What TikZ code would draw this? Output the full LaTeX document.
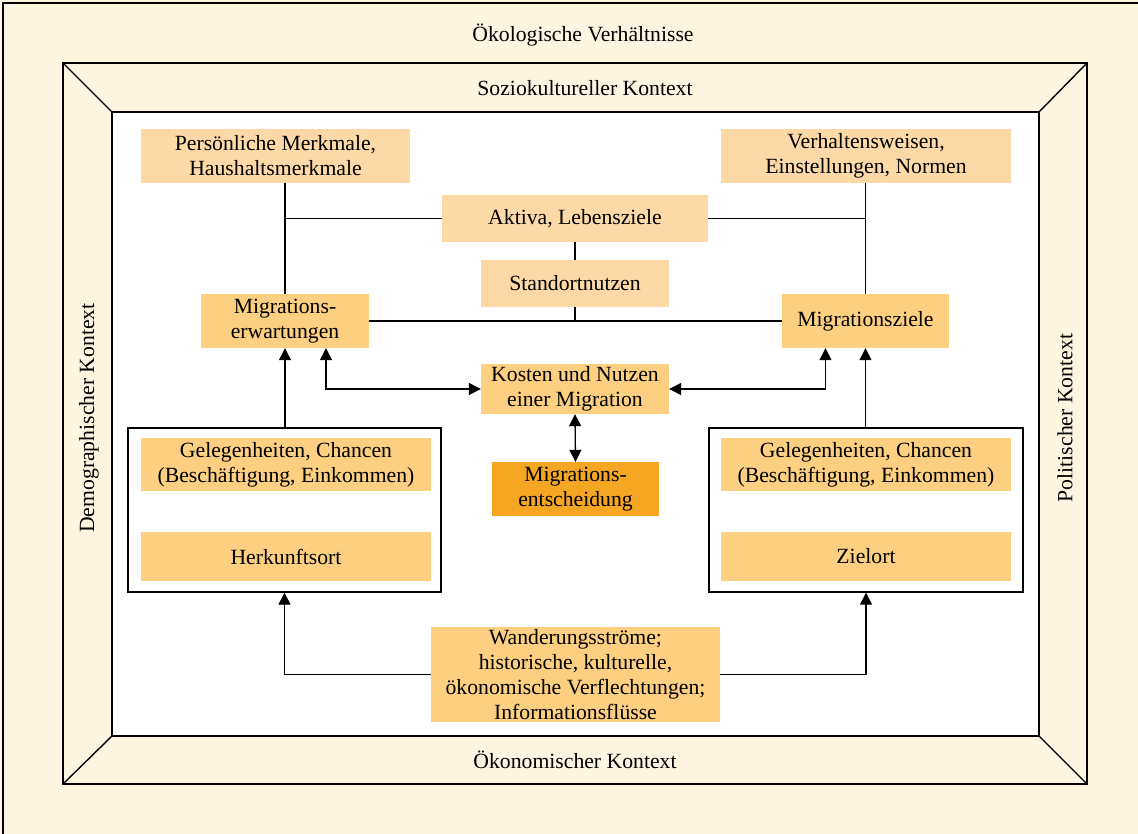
\documentclass[tikz,border=0pt]{standalone}
\usepackage{fontspec}
\setmainfont{Liberation Serif}
\usetikzlibrary{arrows.meta}
\usetikzlibrary{positioning}

\definecolor{cream}{HTML}{FEF5E1}
\definecolor{peach}{HTML}{FDD9A8}
\definecolor{amber}{HTML}{FDCF80}
\definecolor{deeporange}{HTML}{F5A623}

\begin{document}
\begin{tikzpicture}[
    x=1pt, y=-1pt,
    every node/.append style={font=\fontsize{21.7}{25}\selectfont, align=center, inner sep=0pt},
    pale/.style={fill=peach, minimum height=#1},
    pale/.default=54pt,
    warm/.style={fill=amber, minimum height=#1},
    warm/.default=54pt,
    frame/.style={draw, line width=1.4pt, minimum width=#1, minimum height=164pt},
    link/.style={line width=1.3pt},
    tip/.style={link, -{Triangle[length=12pt, width=12pt]}},
    tips/.style={link, {Triangle[length=12pt, width=12pt]}-{Triangle[length=12pt, width=12pt]}},
  ]
  \useasboundingbox (0,0) rectangle (1138,834);
  \fill[cream] (0,0) rectangle (1138,834);
  \draw[line width=2pt] (3,3) rectangle (1142,840);
  % beveled frame
  \draw[line width=1.4pt] (63,63) rectangle (1087,784);
  \filldraw[fill=white, line width=1.4pt] (112,112) rectangle (1039,736);
  \draw[line width=1.4pt] (63,63) -- (112,112) (1087,63) -- (1039,112)
    (63,784) -- (112,736) (1087,784) -- (1039,736);

  \node (oekol) at (583,35) {Ökologische Verhältnisse};
  \node (sozio) at (585,88) {Soziokultureller Kontext};
  \node (oekon) at (575,760) {Ökonomischer Kontext};
  \node[rotate=90] (demo) at (89,418) {Demographischer Kontext};
  \node[rotate=90] (polit) at (1065,418) {Politischer Kontext};

  \node[pale, minimum width=269pt] (merkmale) at (275.5,156) {Persönliche Merkmale,\\Haushaltsmerkmale};
  \node[pale, minimum width=290pt] (verhalten) at (866,156) {Verhaltensweisen,\\Einstellungen, Normen};
  \node[pale=47pt, minimum width=266pt] (aktiva) at (575,218.5) {Aktiva, Lebensziele};
  \node[pale=47pt, minimum width=188pt] (standort) at (575,283.5) {Standortnutzen};

  \node[warm, minimum width=168pt] (erwart) at (285,321) {Migrations-\\erwartungen};
  \node[warm, minimum width=167pt] (ziele) at (865.5,321) {Migrationsziele};
  \node[warm=50pt, minimum width=188pt] (kosten) at (575,389) {Kosten und Nutzen\\einer Migration};
  \node[fill=deeporange, minimum width=167pt, minimum height=54pt] (entscheid) at (575.5,489) {Migrations-\\entscheidung};

  \node[frame=313pt] (herkunftFrame) at (284.5,510) {};
  \node[warm=53pt, minimum width=290pt] (chancenL) at (286,464.5) {Gelegenheiten, Chancen\\(Beschäftigung, Einkommen)};
  \node[warm=49pt, minimum width=290pt] (herkunft) at (286,556.5) {Herkunftsort};
  \node[frame=314pt] (zielFrame) at (866,510) {};
  \node[warm=53pt, minimum width=290pt] (chancenR) at (866,464.5) {Gelegenheiten, Chancen\\(Beschäftigung, Einkommen)};
  \node[warm=49pt, minimum width=290pt] (zielort) at (866,556.5) {Zielort};

  \node[warm=95pt, minimum width=289pt] (stroeme) at (575.5,674.5) {Wanderungsströme;\\historische, kulturelle,\\ökonomische Verflechtungen;\\Informationsflüsse};

  % upper links
  \draw[link] (erwart.north) -- (erwart.north |- merkmale.south);
  \draw[link] (aktiva.west) -- (aktiva.west -| erwart.north);
  \draw[link] (ziele.north) -- (ziele.north |- verhalten.south);
  \draw[link] (aktiva.east) -- (aktiva.east -| ziele.north);
  \draw[link] (aktiva.south) -- (standort.north);
  \draw[link] (erwart.east) -- (ziele.west);
  \draw[link] (standort.south) -- (standort.south |- erwart.east);

  % arrows
  \draw[tips] ([xshift=41pt]erwart.south) |- (kosten.west);
  \draw[tips] ([xshift=-40pt]ziele.south) |- (kosten.east);
  \draw[tips] (kosten.south) -- (entscheid.north);
  \draw[tip] (herkunftFrame.north -| erwart.south) -- (erwart.south);
  \draw[tip] (zielFrame.north -| ziele.south) -- (ziele.south);
  \draw[tip] (stroeme.west) -| (herkunftFrame.south);
  \draw[tip] (stroeme.east) -| (zielFrame.south);
\end{tikzpicture}
\end{document}
